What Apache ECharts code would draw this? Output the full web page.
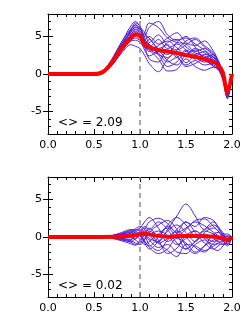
<!DOCTYPE html>
<html><head><meta charset="utf-8">
<script src="https://cdn.jsdelivr.net/npm/echarts@6/dist/echarts.min.js"></script>
<style>html,body{margin:0;padding:0;background:#fff}#c{width:245px;height:327px}</style>
</head><body><div id="c"></div>
<script>
// shared x positions
var xs = [0,0.5,0.6,0.7,0.8,0.9,0.95,1.0,1.05,1.1,1.2,1.3,1.4,1.5,1.6,1.7,1.8,1.85,1.9,1.95,2.0];
var xTicks = [0.0,0.5,1.0,1.5,2.0];
var yTicks = [-5,0,5];
var labelTop = '<> = 2.09';
var labelBottom = '<> = 0.02';

// top panel: individual curves
var top1  = [0,0,0.2,1.5,3.6,5.8,6.6,6.0,4.5,4.0,2.6,1.0,1.6,3.0,2.2,1.6,1.8,1.0,-0.5,-3.0,0];
var top2  = [0,0,0.3,2.0,4.2,6.4,7.0,6.3,5.0,6.2,7.0,5.2,4.5,4.8,4.0,3.2,2.2,1.4,0.0,-2.8,0];
var top3  = [0,0,0.2,1.4,3.0,4.4,4.5,4.2,3.5,3.2,2.0,0.4,0.6,2.0,1.0,0.5,0.9,0.6,-0.8,-3.2,0];
var top4  = [0,0,0.4,1.9,3.9,5.5,6.0,5.6,4.6,5.0,4.0,4.8,5.5,4.2,3.8,4.4,3.0,1.8,0.2,-2.6,0];
var top5  = [0,0,0.2,1.2,2.8,3.9,3.7,3.4,2.5,1.4,0.3,2.0,3.0,1.5,2.4,1.8,1.2,0.8,-0.4,-2.9,0];
var top6  = [0,0,0.3,1.7,3.7,5.2,5.9,5.4,4.2,3.0,3.8,4.4,3.5,2.6,3.4,2.8,2.0,1.2,0.0,-2.7,0];
var top7  = [0,0,0.3,1.8,3.8,5.6,6.2,5.8,5.2,4.8,3.3,2.6,4.2,5.0,3.6,2.2,2.6,1.6,0.1,-3.0,0];
var top8  = [0,0,0.2,1.5,3.3,4.8,5.0,4.6,3.2,2.4,3.0,1.8,1.2,2.6,3.2,2.0,1.0,0.6,-0.6,-3.3,0];
var top9  = [0,0,0.4,2.1,4.3,6.0,6.5,6.1,5.6,4.2,5.2,3.8,3.2,3.9,4.6,3.6,2.4,1.5,0.2,-2.5,0];
var top10 = [0,0,0.2,1.3,3.2,4.9,5.4,5.0,4.0,4.6,3.4,3.9,2.2,3.2,2.6,3.0,1.6,1.0,-0.3,-2.8,0];
var top11 = [0,0,0.3,1.6,3.5,5.3,5.7,5.2,3.8,2.0,1.6,3.2,2.4,1.2,1.8,1.2,1.4,0.9,-0.5,-3.1,0];
var top12 = [0,0,0.3,1.8,3.9,5.7,6.3,5.9,4.4,3.6,4.6,3.4,4.0,3.2,2.0,2.6,2.2,1.4,0.0,-2.7,0];
var top13 = [0,0,0.2,1.4,3.1,4.5,4.8,4.5,5.5,6.8,6.2,4.8,4.2,4.0,3.0,3.4,2.6,1.6,0.1,-2.6,0];
var top14 = [0,0,0.3,1.7,3.6,5.0,5.2,4.9,3.6,3.4,2.8,1.6,2.2,1.0,1.4,2.0,1.0,0.7,-0.4,-3.0,0];
var top15 = [0,0,0.2,1.6,3.4,5.1,5.5,5.0,4.3,3.9,3.0,4.2,4.6,3.6,2.8,2.4,1.8,1.2,0.0,-2.9,0];
var top16 = [0,0,0.4,2.0,4.0,5.9,6.8,6.4,4.8,3.4,2.6,2.2,3.2,4.4,4.8,3.8,2.8,1.8,0.3,-2.4,0];
var topMean = [0,0,0.3,1.6,3.4,4.8,5.3,5.1,4.0,3.6,3.2,3.0,2.8,2.5,2.3,2.0,1.6,1.2,0.2,-2.5,0];

// bottom panel: individual curves
var bot1  = [0,0,0,0.2,0.5,0.8,0.6,0.3,1.0,2.0,2.5,1.8,0.6,1.2,2.0,1.5,0.6,0.2,-0.3,-0.6,0];
var bot2  = [0,0,0,-0.2,-0.5,-0.9,-1.1,-0.6,0.4,1.2,-0.4,-2.2,-1.5,0.2,0.8,-0.2,-1.0,-0.8,-0.6,-0.3,0];
var bot3  = [0,0,0,0.1,0.3,0.2,-0.3,0.5,1.2,0.6,-0.8,-1.8,-2.6,-1.0,-1.2,-1.8,-1.2,-0.9,-1.0,-0.8,0];
var bot4  = [0,0,0,0.1,0.4,0.9,1.0,0.8,0.4,-0.2,-0.6,1.0,2.8,4.4,2.8,1.0,1.6,1.2,0.4,0.0,0];
var bot5  = [0,0,0,0.1,0.2,0.5,0.9,1.2,2.0,2.6,1.2,-0.6,0.4,2.0,1.4,2.6,2.2,1.2,0.3,-0.2,0];
var bot6  = [0,0,0,-0.1,-0.4,-0.6,-0.2,0.3,-0.5,-1.4,-2.2,-1.6,-0.2,-0.8,-2.0,-1.2,-0.4,-0.2,-0.5,-0.9,0];
var bot7  = [0,0,0,0.2,0.6,1.0,0.8,0.2,-0.8,-1.6,-0.6,0.8,1.6,0.6,-0.6,0.6,1.2,0.8,0.2,-0.4,0];
var bot8  = [0,0,0,-0.1,-0.3,-0.5,-0.8,-1.0,-0.4,0.6,1.6,2.2,1.0,-1.2,-2.2,-1.2,0.4,0.6,0.2,-0.2,0];
var bot9  = [0,0,0,0.1,0.2,0.4,0.2,-0.3,-1.0,-0.6,0.4,1.2,0.2,1.0,2.2,2.4,1.4,0.8,0.0,-0.5,0];
var bot10 = [0,0,0,-0.1,-0.2,0.3,0.7,1.0,0.6,0.2,-0.8,-0.2,1.0,2.0,0.6,-0.8,-1.6,-1.2,-0.8,-1.0,0];
var bot11 = [0,0,0,0.1,0.3,0.6,0.4,0.8,1.4,1.0,2.0,1.0,-0.8,-1.6,-0.6,0.4,-0.2,-0.6,-0.4,0.2,0];
var bot12 = [0,0,0,-0.1,-0.3,-0.7,-1.0,-0.4,0.2,-0.4,-1.4,-1.0,-2.0,-2.2,-1.0,-0.4,-1.6,-1.8,-1.2,-0.6,0];
var bot13 = [0,0,0,0.1,0.2,0.0,-0.4,-0.8,-0.2,0.8,0.2,1.6,2.6,1.6,0.2,1.0,2.0,1.4,0.6,0.0,0];
var bot14 = [0,0,0,0.0,-0.2,-0.4,0.2,0.6,0.2,-1.0,-1.8,-0.4,0.8,0.0,-1.4,-2.0,-0.8,-0.4,-0.2,-0.6,0];
var bot15 = [0,0,0,0.1,0.4,0.7,1.1,1.4,1.0,0.4,0.8,0.2,-1.0,-0.2,0.8,0.0,-0.6,-0.2,0.4,0.4,0];
var bot16 = [0,0,0,-0.1,-0.2,-0.3,0.1,0.2,-0.6,-1.2,0.0,1.4,0.4,-1.6,-0.6,0.8,0.4,0.0,-0.4,-1.2,0];
var botMean = [0,0,0,0.02,0.08,0.15,0.25,0.35,0.5,0.35,0.15,0.05,0.1,0.15,0.12,0.1,0.05,-0.05,-0.2,-0.4,0];

var topCurves = [top1,top2,top3,top4,top5,top6,top7,top8,top9,top10,top11,top12,top13,top14,top15,top16];
var botCurves = [bot1,bot2,bot3,bot4,bot5,bot6,bot7,bot8,bot9,bot10,bot11,bot12,bot13,bot14,bot15,bot16];

var FONT = 'DejaVu Sans';
var PURPLE = '#5424d6';
var RED = '#ff0000';

function pairs(v){ return xs.map(function(x,i){ return [x, v[i]]; }); }

var grids = [
  {left:48, top:14, width:184, height:120},
  {left:48, top:177, width:184, height:120}
];

var xAxes = [], yAxes = [];
[0,1].forEach(function(g){
  ['bottom','top'].forEach(function(pos){
    xAxes.push({
      type:'value', gridIndex:g, position:pos, min:0, max:2, interval:0.5,
      axisLine:{show:true, onZero:false, lineStyle:{color:'#000', width:1}},
      axisTick:{show:true, inside:true, length:5, lineStyle:{color:'#000'}},
      minorTick:{show:true, splitNumber:5, length:3, lineStyle:{color:'#000'}},
      splitLine:{show:false},
      axisLabel:{show: pos==='bottom', color:'#000', fontFamily:FONT, fontSize:11, margin:6,
        customValues: xTicks, formatter:function(v){ return v.toFixed(1); }}
    });
  });
  ['left','right'].forEach(function(pos){
    yAxes.push({
      type:'value', gridIndex:g, position:pos, min:-8, max:8, interval:1,
      axisLine:{show:true, onZero:false, lineStyle:{color:'#000', width:1}},
      axisTick:{show:true, inside:true, length:3, lineStyle:{color:'#000'}},
      splitLine:{show:false},
      axisLabel:{show: pos==='left', color:'#000', fontFamily:FONT, fontSize:11, margin:6,
        customValues: yTicks}
    });
    yAxes.push({
      type:'value', gridIndex:g, position:pos, min:-8, max:8,
      axisLine:{show:false},
      axisTick:{show:true, inside:true, length:5, customValues: yTicks, lineStyle:{color:'#000'}},
      splitLine:{show:false},
      axisLabel:{show:false}
    });
  });
});

var series = [];
[[topCurves, topMean],[botCurves, botMean]].forEach(function(set, g){
  set[0].forEach(function(c, i){
    var s = {
      type:'line', xAxisIndex:g*2, yAxisIndex:g*4, data:pairs(c), smooth:0.35,
      showSymbol:false, symbol:'none', silent:true,
      lineStyle:{color:PURPLE, width:1}, z:2
    };
    if (i===0) {
      s.markLine = {silent:true, symbol:['none','none'], label:{show:false},
        lineStyle:{color:'#8a8a8a', type:[5,4], width:1.5},
        data:[{xAxis:1}]};
    }
    series.push(s);
  });
  series.push({
    type:'line', xAxisIndex:g*2, yAxisIndex:g*4, data:pairs(set[1]), smooth:0.3,
    showSymbol:false, symbol:'none', silent:true,
    lineStyle:{color:RED, width:4}, z:5
  });
});

var chart = echarts.init(document.getElementById('c'), null, {renderer:'canvas'});
chart.setOption({
  animation:false,
  backgroundColor:'#fff',
  grid: grids,
  xAxis: xAxes,
  yAxis: yAxes,
  series: series,
  graphic: [
    {type:'text', left:58, top:117, style:{text:labelTop, font:'12px "DejaVu Sans"', fill:'#000'}},
    {type:'text', left:58, top:280, style:{text:labelBottom, font:'12px "DejaVu Sans"', fill:'#000'}}
  ]
});
</script>
</body></html>
